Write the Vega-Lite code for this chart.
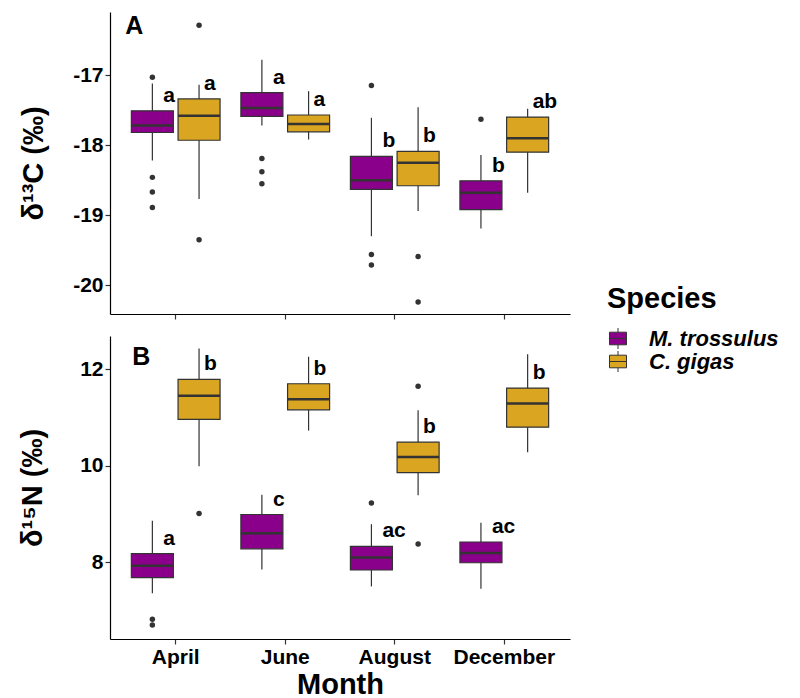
{
  "$schema": "https://vega.github.io/schema/vega-lite/v6.json",
  "padding": {"left": 18, "top": 12, "right": 5, "bottom": 0},
  "background": "white",
  "datasets": {
    "stats": [
      {"panel": "A", "month": "April", "species": "M. trossulus", "lower": -18.22, "q1": -17.82, "median": -17.72, "q3": -17.51, "upper": -17.12, "sig": "a"},
      {"panel": "A", "month": "April", "species": "C. gigas", "lower": -18.77, "q1": -17.93, "median": -17.58, "q3": -17.34, "upper": -17.14, "sig": "a"},
      {"panel": "A", "month": "June", "species": "M. trossulus", "lower": -17.72, "q1": -17.59, "median": -17.47, "q3": -17.25, "upper": -16.78, "sig": "a"},
      {"panel": "A", "month": "June", "species": "C. gigas", "lower": -17.92, "q1": -17.81, "median": -17.70, "q3": -17.57, "upper": -17.23, "sig": "a"},
      {"panel": "A", "month": "August", "species": "M. trossulus", "lower": -19.30, "q1": -18.63, "median": -18.50, "q3": -18.16, "upper": -17.61, "sig": "b"},
      {"panel": "A", "month": "August", "species": "C. gigas", "lower": -18.94, "q1": -18.58, "median": -18.25, "q3": -18.09, "upper": -17.46, "sig": "b"},
      {"panel": "A", "month": "December", "species": "M. trossulus", "lower": -19.19, "q1": -18.92, "median": -18.68, "q3": -18.51, "upper": -18.14, "sig": "b"},
      {"panel": "A", "month": "December", "species": "C. gigas", "lower": -18.68, "q1": -18.10, "median": -17.90, "q3": -17.60, "upper": -17.48, "sig": "ab"},
      {"panel": "B", "month": "April", "species": "M. trossulus", "lower": 7.36, "q1": 7.68, "median": 7.93, "q3": 8.18, "upper": 8.86, "sig": "a"},
      {"panel": "B", "month": "April", "species": "C. gigas", "lower": 9.99, "q1": 10.96, "median": 11.45, "q3": 11.79, "upper": 12.43, "sig": "b"},
      {"panel": "B", "month": "June", "species": "M. trossulus", "lower": 7.85, "q1": 8.28, "median": 8.60, "q3": 8.99, "upper": 9.40, "sig": "c"},
      {"panel": "B", "month": "June", "species": "C. gigas", "lower": 10.73, "q1": 11.16, "median": 11.38, "q3": 11.70, "upper": 12.26, "sig": "b"},
      {"panel": "B", "month": "August", "species": "M. trossulus", "lower": 7.50, "q1": 7.84, "median": 8.10, "q3": 8.33, "upper": 8.79, "sig": "ac"},
      {"panel": "B", "month": "August", "species": "C. gigas", "lower": 9.39, "q1": 9.86, "median": 10.18, "q3": 10.49, "upper": 11.15, "sig": "b"},
      {"panel": "B", "month": "December", "species": "M. trossulus", "lower": 7.45, "q1": 7.99, "median": 8.19, "q3": 8.42, "upper": 8.82, "sig": "ac"},
      {"panel": "B", "month": "December", "species": "C. gigas", "lower": 10.28, "q1": 10.80, "median": 11.29, "q3": 11.61, "upper": 12.31, "sig": "b"}
    ],
    "outliers": [
      {"panel": "A", "month": "April", "species": "M. trossulus", "value": -17.03},
      {"panel": "A", "month": "April", "species": "M. trossulus", "value": -18.46},
      {"panel": "A", "month": "April", "species": "M. trossulus", "value": -18.67},
      {"panel": "A", "month": "April", "species": "M. trossulus", "value": -18.89},
      {"panel": "A", "month": "April", "species": "C. gigas", "value": -16.29},
      {"panel": "A", "month": "April", "species": "C. gigas", "value": -19.35},
      {"panel": "A", "month": "June", "species": "M. trossulus", "value": -18.19},
      {"panel": "A", "month": "June", "species": "M. trossulus", "value": -18.38},
      {"panel": "A", "month": "June", "species": "M. trossulus", "value": -18.55},
      {"panel": "A", "month": "August", "species": "M. trossulus", "value": -17.15},
      {"panel": "A", "month": "August", "species": "M. trossulus", "value": -19.56},
      {"panel": "A", "month": "August", "species": "M. trossulus", "value": -19.71},
      {"panel": "A", "month": "August", "species": "C. gigas", "value": -19.59},
      {"panel": "A", "month": "August", "species": "C. gigas", "value": -20.24},
      {"panel": "A", "month": "December", "species": "M. trossulus", "value": -17.63},
      {"panel": "B", "month": "April", "species": "M. trossulus", "value": 6.82},
      {"panel": "B", "month": "April", "species": "M. trossulus", "value": 6.70},
      {"panel": "B", "month": "April", "species": "C. gigas", "value": 9.01},
      {"panel": "B", "month": "August", "species": "M. trossulus", "value": 9.23},
      {"panel": "B", "month": "August", "species": "C. gigas", "value": 11.65},
      {"panel": "B", "month": "August", "species": "C. gigas", "value": 8.38}
    ],
    "panels": [
      {"panel": "A", "label": "A"},
      {"panel": "B", "label": "B"}
    ]
  },
  "vconcat": [
    {
      "width": 460,
      "height": 302,
      "encoding": {
        "x": {"field": "month", "type": "nominal", "sort": ["April", "June", "August", "December"], "scale": {"paddingInner": 0.19, "paddingOuter": 0.195}, "axis": {"labels": false, "title": null, "tickSize": 5}},
        "xOffset": {"field": "species", "type": "nominal", "sort": ["M. trossulus", "C. gigas"], "scale": {"paddingInner": 0.1, "paddingOuter": 0}}
      },
      "layer": [
        {
          "data": {"name": "stats"},
          "transform": [{"filter": "datum.panel === 'A'"}],
          "mark": {"type": "rule", "color": "#333333", "strokeWidth": 1.2},
          "encoding": {
            "y": {"field": "lower", "type": "quantitative", "scale": {"domain": [-20.41, -16.1], "nice": false, "zero": false}, "axis": {"values": [-20, -19, -18, -17], "labelExpr": "'' + datum.value", "title": "δ¹³C (‰)", "titlePadding": 24, "tickSize": 5, "labelPadding": 2}},
            "y2": {"field": "upper"}
          }
        },
        {
          "data": {"name": "stats"},
          "transform": [{"filter": "datum.panel === 'A'"}],
          "mark": {"type": "bar", "stroke": "#333333", "strokeWidth": 1.2},
          "encoding": {
            "y": {"field": "q1", "type": "quantitative", "scale": {"domain": [-20.41, -16.1], "nice": false, "zero": false}},
            "y2": {"field": "q3"},
            "color": {"field": "species", "type": "nominal", "sort": ["M. trossulus", "C. gigas"], "scale": {"domain": ["M. trossulus", "C. gigas"], "range": ["#8B008B", "#DAA520"]}, "legend": {"title": "Species"}}
          }
        },
        {
          "data": {"name": "stats"},
          "transform": [{"filter": "datum.panel === 'A'"}],
          "mark": {"type": "tick", "color": "#333333", "thickness": 2.5, "size": 42, "opacity": 1},
          "encoding": {
            "y": {"field": "median", "type": "quantitative", "scale": {"domain": [-20.41, -16.1], "nice": false, "zero": false}}
          }
        },
        {
          "data": {"name": "outliers"},
          "transform": [{"filter": "datum.panel === 'A'"}],
          "mark": {"type": "circle", "color": "#333333", "size": 30, "opacity": 1},
          "encoding": {
            "y": {"field": "value", "type": "quantitative", "scale": {"domain": [-20.41, -16.1], "nice": false, "zero": false}}
          }
        },
        {
          "data": {"name": "stats"},
          "transform": [{"filter": "datum.panel === 'A' && datum.species === 'M. trossulus'"}],
          "mark": {"type": "text", "align": "left", "baseline": "alphabetic", "dx": 11, "dy": -9, "fontSize": 21, "fontWeight": "bold", "font": "Liberation Sans", "color": "black"},
          "encoding": {
            "y": {"field": "q3", "type": "quantitative", "scale": {"domain": [-20.41, -16.1], "nice": false, "zero": false}},
            "text": {"field": "sig"}
          }
        },
        {
          "data": {"name": "stats"},
          "transform": [{"filter": "datum.panel === 'A' && datum.species === 'C. gigas'"}],
          "mark": {"type": "text", "align": "left", "baseline": "alphabetic", "dx": 5, "dy": -9, "fontSize": 21, "fontWeight": "bold", "font": "Liberation Sans", "color": "black"},
          "encoding": {
            "y": {"field": "q3", "type": "quantitative", "scale": {"domain": [-20.41, -16.1], "nice": false, "zero": false}},
            "text": {"field": "sig"}
          }
        },
        {
          "data": {"name": "panels"},
          "transform": [{"filter": "datum.panel === 'A'"}],
          "mark": {"type": "text", "align": "left", "baseline": "alphabetic", "dx": -27, "fontSize": 25, "fontWeight": "bold", "font": "Liberation Sans", "color": "black"},
          "encoding": {
            "x": {"datum": "April"},
            "xOffset": {"datum": "M. trossulus"},
            "y": {"datum": -16.42, "type": "quantitative", "scale": {"domain": [-20.41, -16.1], "nice": false, "zero": false}},
            "text": {"field": "label"}
          }
        }
      ]
    },
    {
      "width": 460,
      "height": 303,
      "encoding": {
        "x": {"field": "month", "type": "nominal", "sort": ["April", "June", "August", "December"], "scale": {"paddingInner": 0.19, "paddingOuter": 0.195}, "axis": {"title": "Month", "tickSize": 5, "labelPadding": 2, "titlePadding": 3, "labelAngle": 0}},
        "xOffset": {"field": "species", "type": "nominal", "sort": ["M. trossulus", "C. gigas"], "scale": {"paddingInner": 0.1, "paddingOuter": 0}}
      },
      "layer": [
        {
          "data": {"name": "stats"},
          "transform": [{"filter": "datum.panel === 'B'"}],
          "mark": {"type": "rule", "color": "#333333", "strokeWidth": 1.2},
          "encoding": {
            "y": {"field": "lower", "type": "quantitative", "scale": {"domain": [6.41, 12.69], "nice": false, "zero": false}, "axis": {"values": [8, 10, 12], "labelExpr": "'' + datum.value", "title": "δ¹⁵N (‰)", "titlePadding": 32, "tickSize": 5, "labelPadding": 2}},
            "y2": {"field": "upper"}
          }
        },
        {
          "data": {"name": "stats"},
          "transform": [{"filter": "datum.panel === 'B'"}],
          "mark": {"type": "bar", "stroke": "#333333", "strokeWidth": 1.2},
          "encoding": {
            "y": {"field": "q1", "type": "quantitative", "scale": {"domain": [6.41, 12.69], "nice": false, "zero": false}},
            "y2": {"field": "q3"},
            "color": {"field": "species", "type": "nominal", "sort": ["M. trossulus", "C. gigas"], "scale": {"domain": ["M. trossulus", "C. gigas"], "range": ["#8B008B", "#DAA520"]}, "legend": {"title": "Species"}}
          }
        },
        {
          "data": {"name": "stats"},
          "transform": [{"filter": "datum.panel === 'B'"}],
          "mark": {"type": "tick", "color": "#333333", "thickness": 2.5, "size": 42, "opacity": 1},
          "encoding": {
            "y": {"field": "median", "type": "quantitative", "scale": {"domain": [6.41, 12.69], "nice": false, "zero": false}}
          }
        },
        {
          "data": {"name": "outliers"},
          "transform": [{"filter": "datum.panel === 'B'"}],
          "mark": {"type": "circle", "color": "#333333", "size": 30, "opacity": 1},
          "encoding": {
            "y": {"field": "value", "type": "quantitative", "scale": {"domain": [6.41, 12.69], "nice": false, "zero": false}}
          }
        },
        {
          "data": {"name": "stats"},
          "transform": [{"filter": "datum.panel === 'B' && datum.species === 'M. trossulus'"}],
          "mark": {"type": "text", "align": "left", "baseline": "alphabetic", "dx": 11, "dy": -9, "fontSize": 21, "fontWeight": "bold", "font": "Liberation Sans", "color": "black"},
          "encoding": {
            "y": {"field": "q3", "type": "quantitative", "scale": {"domain": [6.41, 12.69], "nice": false, "zero": false}},
            "text": {"field": "sig"}
          }
        },
        {
          "data": {"name": "stats"},
          "transform": [{"filter": "datum.panel === 'B' && datum.species === 'C. gigas'"}],
          "mark": {"type": "text", "align": "left", "baseline": "alphabetic", "dx": 5, "dy": -9, "fontSize": 21, "fontWeight": "bold", "font": "Liberation Sans", "color": "black"},
          "encoding": {
            "y": {"field": "q3", "type": "quantitative", "scale": {"domain": [6.41, 12.69], "nice": false, "zero": false}},
            "text": {"field": "sig"}
          }
        },
        {
          "data": {"name": "panels"},
          "transform": [{"filter": "datum.panel === 'B'"}],
          "mark": {"type": "text", "align": "left", "baseline": "alphabetic", "dx": -20, "fontSize": 25, "fontWeight": "bold", "font": "Liberation Sans", "color": "black"},
          "encoding": {
            "x": {"datum": "April"},
            "xOffset": {"datum": "M. trossulus"},
            "y": {"datum": 12.09, "type": "quantitative", "scale": {"domain": [6.41, 12.69], "nice": false, "zero": false}},
            "text": {"field": "label"}
          }
        }
      ]
    }
  ],
  "spacing": 16,
  "resolve": {"scale": {"color": "shared"}, "legend": {"color": "shared"}},
  "config": {
    "font": "Liberation Sans",
    "view": {"stroke": null},
    "axis": {
      "grid": false,
      "domainColor": "black",
      "domainWidth": 1.2,
      "tickColor": "#333333",
      "tickWidth": 1.2,
      "labelColor": "black",
      "labelFont": "Liberation Sans",
      "labelFontSize": 21,
      "labelFontWeight": "bold",
      "titleColor": "black",
      "titleFont": "Liberation Sans",
      "titleFontSize": 29,
      "titleFontWeight": "bold"
    },
    "legend": {
      "orient": "none",
      "legendX": 497,
      "legendY": 273,
      "padding": 0,
      "title": "Species",
      "titleFont": "Liberation Sans",
      "titleFontSize": 29,
      "titleFontWeight": "bold",
      "titleColor": "black",
      "titlePadding": 14,
      "labelFont": "Liberation Sans",
      "labelFontSize": 22,
      "labelFontWeight": "bold",
      "labelFontStyle": "italic",
      "labelColor": "black",
      "labelOffset": 20,
      "rowPadding": 0,
      "clipHeight": 21,
      "symbolType": "M-0.81,-0.6H0.81V0.6H-0.81Z M0,-0.6V-1 M0,0.6V1 M-0.81,0H0.81",
      "symbolSize": 441,
      "symbolStrokeColor": "#333333",
      "symbolStrokeWidth": 1,
      "symbolOpacity": 1
    }
  }
}
